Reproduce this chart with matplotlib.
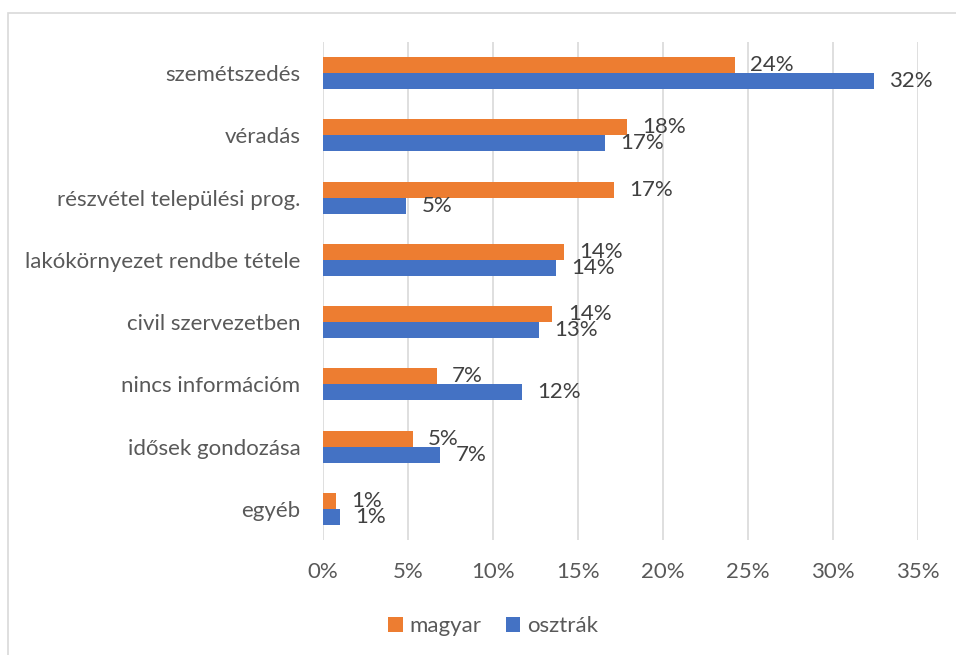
import matplotlib
matplotlib.use("Agg")
import matplotlib.pyplot as plt
from matplotlib.patches import Rectangle

# adatok
categories = ["szemétszedés", "véradás", "részvétel települési prog.",
              "lakókörnyezet rendbe tétele", "civil szervezetben",
              "nincs információm", "idősek gondozása", "egyéb"]
magyar = [24.2, 17.9, 17.1, 14.2, 13.5, 6.7, 5.3, 0.8]
osztrak = [32.4, 16.6, 4.9, 13.7, 12.7, 11.7, 6.9, 1.0]
xticks = [0, 5, 10, 15, 20, 25, 30, 35]

plt.rcParams['font.family'] = ['Lato', 'DejaVu Sans']
txt = '#595959'
lbl = '#404040'
fs = 16

fig = plt.figure(figsize=(9.56, 6.55), dpi=100)
ax = fig.add_axes([322.7/956, 1-540/655, (918.3-322.7)/956, (540-42)/655])

h = 0.256
ypos = list(range(len(categories)))
ym = [y - h/2 for y in ypos]
yo = [y + h/2 for y in ypos]
ax.barh(ym, magyar, height=h, color='#ED7D31', label='magyar', zorder=3)
ax.barh(yo, osztrak, height=h, color='#4472C4', label='osztrák', zorder=3)

# adatcimkek (az eredetiben is egymasra lognak)
for y, v in zip(ym, magyar):
    ax.annotate(f"{round(v):.0f}%", (v, y), xytext=(11, 0), textcoords='offset points',
                va='center', ha='left', fontsize=fs, color=lbl)
for y, v in zip(yo, osztrak):
    ax.annotate(f"{round(v):.0f}%", (v, y), xytext=(11, 0), textcoords='offset points',
                va='center', ha='left', fontsize=fs, color=lbl)

ax.set_xlim(0, 35)
ax.set_ylim(len(categories) - 0.5, -0.5)
ax.set_xticks(xticks)
ax.set_xticklabels([f"{t}%" for t in xticks])
ax.set_yticks(ypos)
ax.set_yticklabels(categories)
ax.tick_params(axis='both', length=0, labelsize=fs, labelcolor=txt)
ax.tick_params(axis='x', pad=16)
ax.tick_params(axis='y', pad=16)
ax.grid(axis='x', color='#D9D9D9', linewidth=1.2, zorder=0)
for s in ax.spines.values():
    s.set_visible(False)

handles, labels = ax.get_legend_handles_labels()
fig.legend(handles, labels, loc='center', bbox_to_anchor=(493/956, 1-626/655), ncol=2,
           frameon=False, fontsize=fs, labelcolor=txt, handlelength=0.65,
           handleheight=0.65, handletextpad=0.3, columnspacing=1.1)

fig.patches.append(Rectangle((8/956, -0.1), 1.2, 1.1 - 13/655,
                             transform=fig.transFigure, fill=False,
                             edgecolor='#D9D9D9', linewidth=1.2))

fig.savefig("out.png", dpi=100)
